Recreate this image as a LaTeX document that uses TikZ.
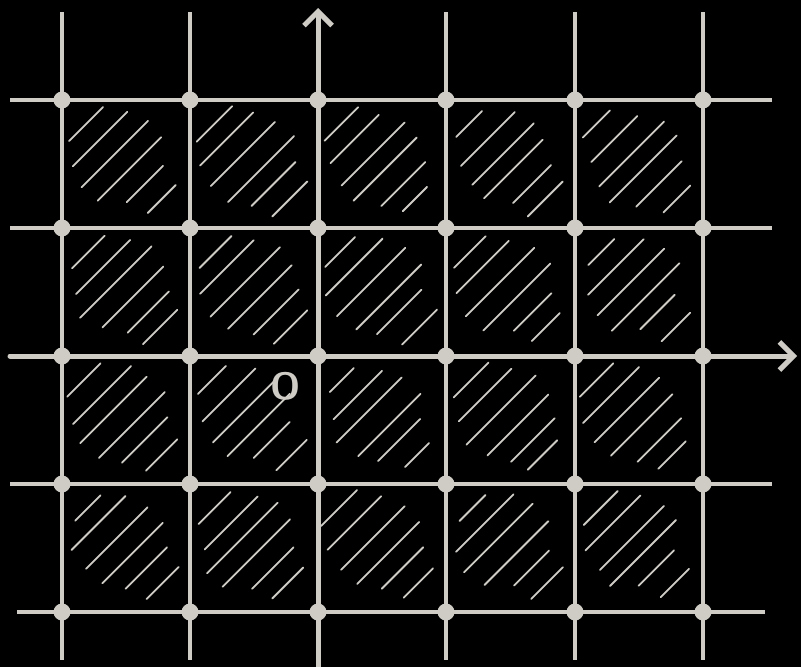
\documentclass[tikz,border=0pt]{standalone}
\usetikzlibrary{arrows.meta}
\definecolor{ink}{HTML}{CFCCC6}
\begin{document}
\begin{tikzpicture}[x=1pt,y=-1pt,
  gridline/.style={draw=ink,line width=3.2pt},
  axisline/.style={draw=ink,line width=5pt,line cap=round,-{Straight Barb[length=14pt,width=28pt,line width=5pt]}},
  dot/.style={circle,fill=ink,inner sep=0pt,minimum size=17pt},
  hatch/.style={draw=ink,line width=1.8pt,line cap=round}]
\fill[black] (0,0) rectangle (801,667);
\useasboundingbox (0,0) rectangle (801,667);
% hatching
\pgfmathsetseed{11}
\foreach \cx/\nx in {62/190,190/318,318/446,446/575,575/703}{
  \foreach \cy in {100,228,356,484}{
    \foreach \t/\l in {-40/15,-25/26,-10/33,5/31,20/20,35/15}{
      \pgfmathsetmacro\L{\l+3*rand}
      \pgfmathsetmacro\s{3*rand}
      \pgfmathsetmacro\mx{(\cx+\nx)/2}
      \draw[hatch] (\mx+\t-\L+\s, \cy+64+\t+\L) -- (\mx+\t+\L+\s, \cy+64+\t-\L);
    }
  }
}
% grid lines
\foreach \x in {62,190,446,575,703}{\draw[gridline] (\x,12) -- (\x,660);}
\foreach \y in {100,228,484}{\draw[gridline] (10,\y) -- (772,\y);}
\draw[gridline] (17,612) -- (765,612);
% axes
\coordinate (xs) at (10,356);
\coordinate (xe) at (797,356);
\coordinate (ys) at (318,667);
\coordinate (ye) at (318,8);
\draw[axisline] (xs) -- (xe);
\draw[axisline] (ys) -- (ye);
% dots
\foreach \x [count=\i] in {62,190,318,446,575,703}{
  \foreach \y [count=\j] in {100,228,356,484,612}{
    \node[dot] (d\i\j) at (\x,\y) {};
  }
}
\node[text=ink,font=\sffamily\bfseries\fontsize{38}{38}\selectfont] (o) at (286,386) {O};
\end{tikzpicture}
\end{document}
